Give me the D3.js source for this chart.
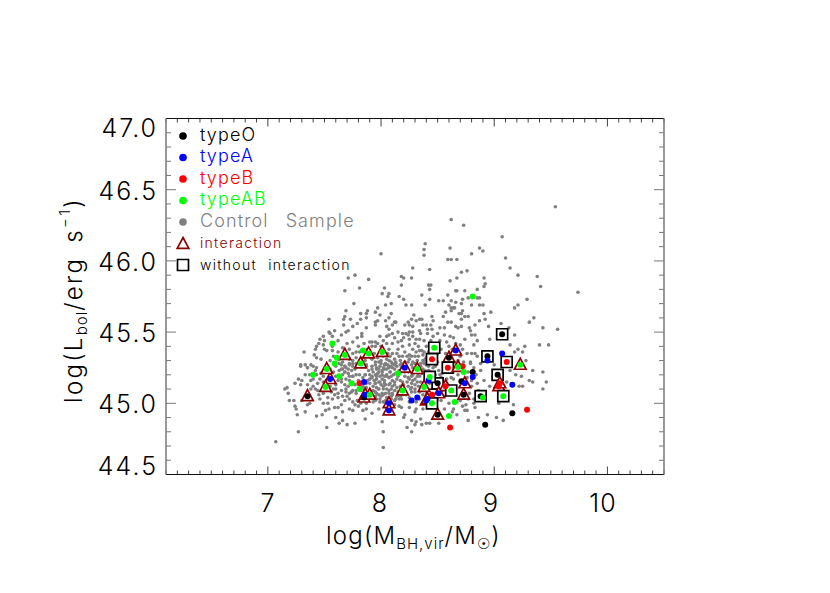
<!DOCTYPE html>
<html><head><meta charset="utf-8">
<script src="https://cdnjs.cloudflare.com/ajax/libs/d3/7.8.5/d3.min.js"></script>
<style>html,body{margin:0;background:#fff}svg{display:block}text{font-family:Inter,"Liberation Sans",sans-serif;font-weight:300}</style>
</head><body><svg id="c" width="830" height="593"></svg>
<script>
const xTicks=[7,8,9,10], yTicks=[44.5,45,45.5,46,46.5,47];
const legendTypes=["typeO","typeA","typeB","typeAB","Control Sample"];
const legendColors=["#000","#00f","#f00","#0f0","#808080"];
const controlSample=[
[7.81,45.81],[7.68,45.79],[7.76,45.70],[7.69,45.65],[7.54,45.59],[7.68,45.61],[7.73,45.59],[7.82,45.63],[7.88,45.65],[7.87,45.63],[7.87,45.60],[7.82,45.59],[7.79,45.56],[7.75,45.54],[7.67,45.55],[7.67,45.59],[7.71,45.51],[7.69,45.50],[7.65,45.48],[7.59,45.51],[7.54,45.50],[7.55,45.49],[7.57,45.47],[7.49,45.47],[7.46,45.45],[7.50,45.44],[7.45,45.42],[7.49,45.41],[7.43,45.40],[7.42,45.38],[7.50,45.38],[7.52,45.37],[7.57,45.40],[7.62,45.44],[7.57,45.37],[7.32,45.36],[7.41,45.34],[7.43,45.32],[7.47,45.31],[7.29,45.27],[7.33,45.27],[7.38,45.27],[7.43,45.25],[7.35,45.25],[7.75,45.43],[7.79,45.46],[7.83,45.47],[7.83,45.49],[7.87,45.53],[7.90,45.43],[7.72,45.38],[7.75,45.35],[7.78,45.36],[7.81,45.36],[7.60,45.26],[7.65,45.27],[7.68,45.26],[7.72,45.27],[7.75,45.28],[7.87,45.27],[7.66,45.24],[7.71,45.24],
[8.18,45.83],[8.03,45.81],[8.01,45.77],[8.07,45.77],[8.06,45.75],[8.16,45.75],[8.20,45.73],[8.09,45.70],[8.04,45.69],[7.97,45.67],[8.22,45.69],[8.27,45.69],[8.29,45.62],[7.95,45.64],[7.99,45.62],[8.09,45.63],[8.07,45.60],[8.04,45.58],[7.97,45.58],[7.95,45.57],[7.95,45.55],[8.12,45.57],[8.13,45.57],[8.10,45.55],[8.05,45.54],[8.07,45.52],[8.24,45.57],[8.27,45.59],[8.31,45.58],[8.21,45.55],[8.25,45.55],[8.28,45.54],[8.34,45.59],
[8.79,45.51],[8.80,45.48],[8.83,45.48],[8.85,45.44],[8.82,45.41],[8.74,45.45],[8.70,45.41],[8.61,45.47],[8.56,45.48],[8.50,45.49],[8.46,45.47],[8.41,45.49],[8.35,45.49],[8.34,45.51],[8.28,45.50],[8.25,45.50],[8.24,45.48],[8.22,45.49],[8.19,45.49],[8.15,45.50],[8.10,45.49],[8.07,45.48],[8.05,45.47],[7.99,45.47],[7.92,45.43],[7.95,45.43],[8.28,45.47],[8.31,45.45],[8.34,45.45],[8.25,45.45],[8.18,45.44],[8.15,45.43],[8.10,45.42],[8.05,45.42],[7.95,45.40],[8.07,45.38],[8.10,45.35],[8.15,45.38],[8.19,45.40],[8.25,45.41],[8.28,45.38],[8.33,45.40],[8.36,45.37],[8.40,45.40],[8.37,45.34],[8.08,45.33],[8.05,45.31],[7.99,45.34],[8.09,45.29],[8.13,45.28],[8.04,45.27],[8.27,45.33],[8.30,45.28],[8.38,45.29],[8.40,45.27],[8.16,45.33],[8.25,45.34],[8.24,45.29],[8.07,45.25],[8.02,45.25],[7.95,45.29],[7.96,45.25],[7.92,45.31],[8.80,45.35],[8.85,45.33],[8.79,45.29],[8.82,45.25],[8.39,45.31],[8.37,45.30],[8.40,45.32],[8.35,45.28],[8.42,45.26],[8.37,45.24],
[9.54,46.38],[8.62,46.29],[8.73,46.25],[9.07,46.17],[8.39,46.12],[8.61,46.09],[8.38,46.08],[8.38,46.04],[8.87,46.09],[8.90,46.07],[8.80,46.05],[8.59,46.01],[8.62,46.01],[8.67,46.01],[9.10,46.02],[9.14,45.95],[8.43,45.94],[8.71,45.92],[8.76,45.93],[9.21,45.90],[9.38,45.89],[8.91,45.88],[8.67,45.88],[8.61,45.86],[8.92,45.84],[8.42,45.83],[8.44,45.83],[8.43,45.80],[8.91,45.82],[9.41,45.82],[8.85,45.80],[8.66,45.79],[8.67,45.79],[8.74,45.79],[9.74,45.78],[8.36,45.76],[8.59,45.76],[8.85,45.74],[8.87,45.74],[8.72,45.73],[8.77,45.74],[8.43,45.73],[8.51,45.72],[8.55,45.72],[8.62,45.72],[9.29,45.73],[9.21,45.69],[9.18,45.67],[8.66,45.71],[8.71,45.70],[8.60,45.69],[8.80,45.69],[8.87,45.69],[8.90,45.69],[8.39,45.69],[8.62,45.67],[8.64,45.67],[8.65,45.67],[8.62,45.65],[8.72,45.65],[8.57,45.64],[8.97,45.64],[8.69,45.63],[8.71,45.63],[8.91,45.63],[8.77,45.61],[8.74,45.61],[8.45,45.61],[8.55,45.61],[9.35,45.60],[8.71,45.59],[8.87,45.58],[8.92,45.59],[8.46,45.58],[9.31,45.57],[9.06,45.56],[8.59,45.57],[8.62,45.57],[8.83,45.55],[8.44,45.55],[8.95,45.54],[8.71,45.54],[8.66,45.54],[8.68,45.53],[8.56,45.53],[8.52,45.53],[9.43,45.53],[8.78,45.53],[9.13,45.53],[9.56,45.52],[8.36,45.59],[8.37,45.55],[8.40,45.55],[8.41,45.52],[8.45,45.52],
[8.96,45.45],[9.18,45.48],[9.27,45.40],[9.21,45.38],[9.48,45.41],[9.40,45.41],[9.14,45.41],[9.18,45.36],[9.28,45.30],[9.25,45.36],[9.34,45.23],[9.43,45.22],[9.43,45.10],[9.46,45.15],[9.34,45.15],[9.25,45.12],[9.24,45.19],[9.19,45.20],[9.14,45.23],[9.14,45.30],[9.00,45.27],[8.88,45.28],[9.31,45.16],[9.22,45.12],[8.94,44.92],[9.08,44.88],[9.17,44.99],[9.02,44.90],[8.91,45.16],[8.99,45.19],[8.96,45.12],[9.11,45.15],[9.04,45.0],
[8.83,45.35],[8.76,45.35],[8.73,45.29],[8.85,45.14],[8.82,45.03],[8.83,44.97],[8.86,44.90],[8.77,44.88],[8.74,44.95],[8.88,45.23],[8.79,45.28],
[8.00,46.05],[7.77,45.90],[7.71,45.88],[7.89,45.87],[8.28,45.95],[8.18,45.89],[8.20,45.88],[8.27,45.88],
[7.29,45.26],[7.35,45.25],[7.40,45.26],[7.33,45.20],[7.38,45.16],[7.27,45.17],[7.24,45.14],[7.29,45.13],[7.15,45.10],[7.17,45.11],[7.18,45.07],[7.19,45.02],[7.23,45.02],[7.30,45.02],[7.24,44.98],[7.25,44.96],[7.33,44.94],[7.35,44.99],[7.37,45.00],[7.26,44.92],[7.43,44.91],[7.48,44.92],[7.51,44.95],[7.54,44.96],[7.59,44.97],[7.62,44.97],[7.65,44.99],[7.60,44.90],[7.63,44.86],[7.66,44.88],[7.70,44.85],[7.77,44.86],[7.86,44.89],[7.52,44.83],[7.27,44.80],[7.07,44.73],[7.46,45.03],[7.45,45.06],[7.49,45.07],[7.53,45.04],[7.49,45.00],[7.53,45.00],[7.57,45.03],[7.62,45.04],[7.68,45.02],[7.72,45.03],[7.75,45.01],[7.79,45.02],[7.72,44.96],[7.75,44.95],[7.77,44.99],[7.87,44.96],[7.87,45.00],[7.84,44.95],[7.66,44.94],[7.44,45.09],[7.60,45.13],[7.65,45.09],[7.69,45.10],[7.74,45.08],[7.78,45.07],[7.65,45.17],[7.68,45.22],[7.72,45.19],[7.63,45.23],[7.49,45.15],[7.46,45.17],[7.35,45.13],[7.38,45.10],[7.40,45.12],[7.30,45.16],[7.40,45.17],[7.43,45.20],[7.47,45.21],[7.68,45.26],[7.75,45.26],[7.87,45.26],[7.90,45.20],[7.86,45.20],[7.81,45.20],[7.75,45.19],
[7.92,44.93],[8.01,44.87],[8.02,44.80],[8.02,44.69],[7.98,44.96],[8.21,44.92],[8.20,44.90],[8.27,44.88],[8.31,44.87],[8.35,44.89],[8.36,44.85],[8.40,44.86],[8.43,44.86],[8.51,44.86],[8.30,44.85],[8.23,44.83],[8.27,44.80],[8.37,44.96],[8.31,44.96],[8.30,44.94],[8.16,44.98],[8.18,44.97],[8.18,45.03],[8.25,44.97],[8.63,44.94],[8.67,44.92],[8.75,44.99],[8.76,44.95],[8.67,45.01],[8.82,45.00],[8.56,44.96],
[7.92,45.26],[7.96,45.24],[7.99,45.26],[8.03,45.24],[8.07,45.26],[8.10,45.25],[7.93,45.22],[7.97,45.21],[8.01,45.22],[8.05,45.20],[8.08,45.22],[8.11,45.20],[7.92,45.18],[7.96,45.17],[7.99,45.19],[8.03,45.16],[8.07,45.18],[8.10,45.16],[8.15,45.19],[7.95,45.14],[7.99,45.15],[8.04,45.13],[8.08,45.14],[8.12,45.13],[8.19,45.15],[8.25,45.17],[8.28,45.16],[8.24,45.22],[8.27,45.14],[8.30,45.10],[8.27,45.08],[8.25,45.04],[8.10,45.07],[8.07,45.09],[8.02,45.10],[7.98,45.10],[7.93,45.09],[7.92,45.06],[7.96,45.07],[8.01,45.07],[8.05,45.04],[8.09,45.03],[8.02,45.01],[7.99,45.03],[7.96,45.03],[7.93,45.01],[8.13,45.03],[8.12,44.99],[8.08,44.99],[8.05,44.97],[8.19,45.06],[8.25,45.01],[8.31,45.01],[8.34,45.03],[8.40,45.16],[8.34,45.19],[8.46,45.17],
[8.34,45.24],[8.36,45.21],[8.39,45.23],[8.41,45.20],[8.44,45.22],[8.48,45.26],[8.51,45.23],[8.54,45.21],[8.55,45.28],[8.50,45.29],[8.47,45.30],[8.58,45.17],[8.64,45.17],[8.68,45.20],[8.77,45.22],[8.80,45.12],[8.66,45.1],[8.70,45.02],[8.64,44.96],[8.43,44.97],[8.48,44.99],[8.53,45.02],[8.56,45.05],
[7.63,45.28],[7.66,45.29],[7.69,45.25],[7.72,45.28],[7.75,45.30],[7.78,45.28],[7.65,45.24],[7.68,45.22],[7.71,45.21],[7.74,45.23],[7.77,45.24],[7.66,45.20],[7.69,45.17],[7.72,45.16],[7.75,45.19],[7.78,45.20],[7.65,45.15],[7.68,45.13],[7.71,45.12],[7.77,45.13],[7.80,45.16],[7.69,45.08],[7.72,45.07],[7.75,45.09],[7.78,45.09],[7.86,45.20],[7.89,45.23],[7.92,45.24],[7.95,45.27],[7.98,45.29],[8.04,45.28],[8.07,45.30],[8.10,45.28],[8.13,45.29],[7.92,45.19],[7.95,45.20],[7.98,45.22],[8.01,45.23],[8.05,45.24],[8.08,45.22],[8.12,45.24],[7.90,45.14],[7.95,45.14],[7.98,45.15],[8.01,45.17],[8.05,45.19],[8.09,45.19],[8.12,45.15],[7.98,45.10],[8.02,45.12],[8.07,45.13],[8.10,45.12],[7.95,45.08],[7.98,45.06],[8.02,45.06],[8.07,45.07],[8.10,45.06],[8.15,45.08],[7.95,45.02],[7.99,45.01],[8.04,45.02],[8.08,45.01],[8.12,45.02],[8.16,45.03],[8.31,45.36],[8.32,45.30],[8.35,45.26],[8.28,45.29],[8.25,45.31],[8.19,45.33],[8.18,45.28],[8.38,45.28],[8.28,45.20],[8.32,45.19],[8.35,45.15],[8.23,45.15],[8.20,45.13],[8.26,45.10],[8.30,45.08],[8.34,45.08],[8.22,45.06],
[7.55,45.30],[7.58,45.33],[7.62,45.36],[7.66,45.39],[7.70,45.42],[7.63,45.31],[7.69,45.33],[7.72,45.31],[7.78,45.32],[7.81,45.30],[7.84,45.32],[7.86,45.30],[7.90,45.33],[7.94,45.35],[7.97,45.32],[8.00,45.30],[8.02,45.33],[8.03,45.36],[8.06,45.35],[8.12,45.31],[8.14,45.35],[8.17,45.30],[8.21,45.29],[8.21,45.36],[8.23,45.33],[8.30,45.33],[8.33,45.33],[8.34,45.37],[8.38,45.36],[8.42,45.36],[8.43,45.32],[8.45,45.34],[8.50,45.35],[8.53,45.38],[8.57,45.35],[8.60,45.40],[8.63,45.38],[8.66,45.42],[8.70,45.33],[8.72,45.38],[7.80,45.40],[7.85,45.42],[7.88,45.38],[7.92,45.40],[7.97,45.42],[8.00,45.40],[8.02,45.44],[8.12,45.46],[8.20,45.46],[8.30,45.42],[8.38,45.44],[8.44,45.44],[8.52,45.44],[8.58,45.43],[8.64,45.46],
[7.84,45.18],[7.88,45.16],[7.93,45.12],[7.96,45.11],[8.00,45.13],[8.03,45.14],[8.05,45.10],[8.09,45.10],[8.12,45.09],[8.14,45.11],[8.17,45.12],[8.17,45.16],[8.14,45.17],[8.13,45.21],[8.16,45.23],[8.18,45.25],[8.21,45.22],[8.21,45.19],[8.24,45.18],[8.27,45.19],[8.30,45.17],[8.32,45.15],[8.33,45.12],[8.30,45.13],[8.27,45.11],[8.24,45.12],[8.03,45.19],[8.01,45.20],[7.96,45.19],[7.94,45.16],[7.90,45.17],[7.87,45.14],[7.84,45.12],[7.82,45.09],[7.85,45.10],[7.87,45.11],[7.92,45.04],[7.95,45.05],[8.00,45.05],[8.04,45.07],[8.09,45.05],[8.14,45.05],[8.17,45.05],[7.98,45.24],[8.00,45.28],[8.03,45.27],[8.06,45.27],[8.09,45.26],[8.12,45.27],[8.14,45.26],[8.17,45.27],[8.20,45.26],[8.27,45.27],[8.28,45.25],[8.30,45.23],[8.33,45.21],[7.58,45.10],[7.56,45.08],[7.59,45.06],[7.62,45.07],[7.55,45.12],[7.57,45.16],[7.60,45.19],[7.58,45.22],[7.55,45.24],[7.50,45.24],[7.49,45.19],[7.44,45.14],[7.42,45.10],[7.37,45.20],[7.42,45.23],[7.62,45.16],[7.60,45.10],[7.84,45.03],[7.82,45.00],[7.80,44.98],[7.70,45.05],[7.66,45.05],
[8.50,45.13],[8.53,45.18],[8.48,45.20],[8.40,45.12],[8.36,45.12],[8.37,45.06],[8.42,45.08],[8.50,45.04],[8.54,45.09],[8.62,45.22],[8.65,45.29],[8.68,45.30],[8.70,45.27],[8.76,45.18],[8.80,45.16],[8.84,45.20],[8.86,45.09],[8.78,45.07],[8.77,45.03],[8.72,44.98],[8.60,45.00],[8.38,45.00],[8.46,45.11],
[8.44,45.29],[8.42,45.23],[8.46,45.25],[8.52,45.20],[8.55,45.25],[8.57,45.31],[8.60,45.27],[8.62,45.18],[8.58,45.14],[8.55,45.12],[8.46,45.08],[8.43,45.14]
];
// [x, y, kind]: kind "t" = interaction, "s" = without interaction, "" = unclassified
const typeO=[[7.35,45.05,"t"],[7.85,45.04,"t"],[9.07,45.485,"s"],[8.94,45.33,"s"],[9.03,45.20,"s"],[8.50,45.14,"s"],[8.88,45.05,"s"],[8.60,45.32,"t"],[8.73,45.06,"t"],[8.50,44.92,"t"],[8.81,45.22,""],[8.71,45.155,""],[8.92,44.85,""],[9.16,44.93,""]];
const typeA=[[7.55,45.17,"t"],[7.86,45.06,"t"],[8.21,45.25,"t"],[8.40,45.02,"t"],[8.07,45.00,"t"],[8.07,44.95,"t"],[8.66,45.37,"t"],[8.51,45.07,"t"],[8.41,45.03,"t"],[8.74,45.14,"t"],[7.85,45.15,""],[8.27,45.02,""],[8.32,45.04,""],[8.81,45.185,""],[9.07,45.35,""],[8.94,45.30,""],[9.16,45.13,""],[8.42,45.16,""]];
const typeB=[[8.45,45.31,"s"],[8.59,45.25,"s"],[9.11,45.29,"s"],[8.45,45.06,"s"],[8.57,45.12,"t"],[9.04,45.12,"t"],[9.05,45.14,"t"],[7.81,45.14,""],[8.72,45.26,""],[8.61,44.83,""],[9.29,44.955,""]];
const typeAB=[[8.47,45.39,"s"],[8.43,45.185,"s"],[8.62,45.09,"s"],[8.45,45.0,"s"],[9.08,45.05,"s"],[7.51,45.115,"t"],[7.52,45.24,"t"],[7.68,45.34,"t"],[7.82,45.28,"t"],[7.89,45.35,"t"],[8.01,45.36,"t"],[7.90,45.06,"t"],[8.19,45.09,"t"],[8.32,45.24,"t"],[8.38,45.115,"t"],[8.68,45.255,"t"],[9.23,45.27,"t"],[7.57,45.42,""],[7.61,45.32,""],[7.59,45.28,""],[7.40,45.20,""],[7.63,45.19,""],[7.74,45.14,""],[7.84,45.37,""],[7.81,45.10,""],[8.15,45.21,""],[8.73,45.22,""],[8.65,45.01,""],[8.60,44.91,""],[8.90,45.04,""],[8.81,45.75,""]];

const svg=d3.select("#c"), L=166,R=664,T=118.5,B=474.5;
const x=d3.scaleLinear().domain([6.1,10.5]).range([L,R]);
const y=d3.scaleLinear().domain([44.5,47]).range([B,T]);

svg.append("g").selectAll("circle").data(controlSample).join("circle")
  .attr("cx",d=>x(d[0])).attr("cy",d=>y(d[1])).attr("r",1.8).attr("fill","#808080");

const triPath="M0,-6.5L5.8,4.4L-5.8,4.4Z", sqPath="M-5.5,-5.5H5.5V5.5H-5.5Z";
const groups=[[typeO,"#000"],[typeB,"#f00"],[typeA,"#00f"],[typeAB,"#0f0"]];
const gm=svg.append("g");
const all=groups.flatMap(([arr,c])=>arr.map(d=>({d,c})));
gm.selectAll("path").data(all.filter(o=>o.d[2])).join("path")
  .attr("transform",o=>`translate(${x(o.d[0])},${y(o.d[1])})`)
  .attr("d",o=>o.d[2]==="t"?triPath:sqPath).attr("fill","#fff")
  .attr("stroke",o=>o.d[2]==="t"?"#8b0000":"#000").attr("stroke-width",1.7);
gm.selectAll("circle").data(all).join("circle")
  .attr("cx",o=>x(o.d[0])).attr("cy",o=>y(o.d[1])).attr("r",3).attr("fill",o=>o.c);

const ax=svg.append("g").attr("fill","none");
const xMinor=d3.range(61,106).map(v=>v/10), yMinor=d3.range(445,471).map(v=>v/10);
xMinor.forEach(v=>{const major=Math.abs(v-Math.round(v))<1e-6;const h=major?8:4;
  ax.append("path").attr("d",`M${x(v)},${B}v${-h}M${x(v)},${T}v${h}`).attr("stroke","#444").attr("stroke-width",1);});
yMinor.forEach(v=>{const major=Math.abs(v*2-Math.round(v*2))<1e-6;const h=major?10:5;
  ax.append("path").attr("d",`M${L},${y(v)}h${h}M${R},${y(v)}h${-h}`).attr("stroke","#777").attr("stroke-width",1);});
ax.append("path").attr("d",`M${L},${T}H${R}M${L},${B}H${R}`).attr("stroke","#111").attr("stroke-width",1);
ax.append("path").attr("d",`M${L},${T}V${B}M${R},${T}V${B}`).attr("stroke","#808080").attr("stroke-width",1.6);

const xLabelPos={7:268,8:380,9:491,10:603};
svg.append("g").selectAll("text").data(xTicks).join("text")
  .attr("x",d=>xLabelPos[d]).attr("y",512).attr("text-anchor","middle")
  .attr("font-size",25).attr("letter-spacing",1).attr("fill","#000").text(d=>d);
const yBase={44.5:475,45:412.5,45.5:342,46:270.5,46.5:199.5,47:137};
svg.append("g").selectAll("text").data(yTicks).join("text")
  .attr("x",158).attr("y",d=>yBase[d]).attr("text-anchor","end")
  .attr("font-size",25).attr("letter-spacing",2).attr("fill","#000").text(d=>d.toFixed(1));

const xt=svg.append("text").attr("x",326).attr("y",544).attr("font-size",24).attr("letter-spacing",1.2).attr("fill","#000");
xt.append("tspan").text("log(M");
xt.append("tspan").attr("dy",5).attr("font-size",15).attr("letter-spacing",1).text("BH,vir");
xt.append("tspan").attr("dy",-5).text("/M");
xt.append("tspan").attr("dy",5).attr("font-size",15).style("font-family","DejaVu Sans").text("\u2609");
xt.append("tspan").attr("dy",-5).text(")");
const yt=svg.append("text").attr("transform","translate(82,403) rotate(-90)").attr("font-size",24).attr("letter-spacing",2.3).attr("word-spacing",5).attr("fill","#000");
yt.append("tspan").text("log(L");
yt.append("tspan").attr("dy",5).attr("font-size",15).attr("letter-spacing",1).text("bol");
yt.append("tspan").attr("dy",-5).text("/erg s");
yt.append("tspan").attr("dy",-12).attr("font-size",15).text("\u22121");
yt.append("tspan").attr("dy",12).text(")");

const lg=svg.append("g");
legendTypes.forEach((t,i)=>{const yy=136+i*21.5;
  lg.append("circle").attr("cx",183).attr("cy",yy).attr("r",3.8).attr("fill",legendColors[i]);
  lg.append("text").attr("x",200).attr("y",yy+4.5).attr("font-size",18).attr("letter-spacing",1.1).attr("word-spacing",11).attr("fill",legendColors[i]).text(t);});
lg.append("path").attr("transform","translate(183,244)").attr("d",triPath).attr("fill","none").attr("stroke","#8b0000").attr("stroke-width",1.7);
lg.append("text").attr("x",200).attr("y",248).attr("font-size",14).attr("letter-spacing",1.3).attr("fill","#8b0000").text("interaction");
lg.append("path").attr("transform","translate(183,265)").attr("d",sqPath).attr("fill","none").attr("stroke","#000").attr("stroke-width",1.7);
lg.append("text").attr("x",200).attr("y",270).attr("font-size",14).attr("letter-spacing",1.3).attr("word-spacing",6).attr("fill","#000").text("without interaction");
</script></body></html>
